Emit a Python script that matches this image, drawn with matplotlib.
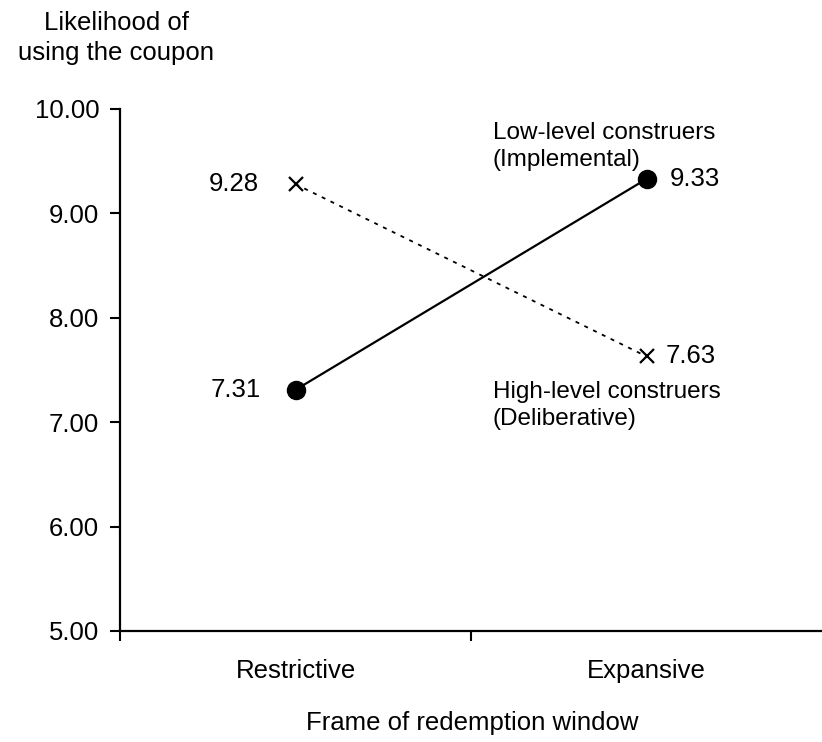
import matplotlib
matplotlib.use("Agg")
import matplotlib.pyplot as plt

frames = ["Restrictive", "Expansive"]
low_level = [7.31, 9.33]
high_level = [9.28, 7.63]
y_ticks = [5, 6, 7, 8, 9, 10]
low_label = ["Low-level construers", "(Implemental)"]
high_label = ["High-level construers", "(Deliberative)"]

plt.rcParams['font.family'] = ['Liberation Sans', 'DejaVu Sans']
fs = 18.5
fs_lab = 17.5

fig = plt.figure(figsize=(8.22, 7.42), dpi=100)
ax = fig.add_axes([0.146, 0.1496, 0.854, 0.7035])

xpos = [0.5, 1.5]
ax.plot(xpos, low_level, '-', color='black', lw=1.6, marker='o', ms=13, zorder=3)
ax.plot(xpos, high_level, linestyle=(0, (2.2, 3.2)), color='black', lw=1.3,
        marker='x', ms=10, mew=1.6, zorder=3)

# value labels
ax.text(xpos[0] - 0.1, low_level[0], f"{low_level[0]:.2f}", ha='right', va='center', fontsize=fs)
ax.text(xpos[1] + 0.065, low_level[1], f"{low_level[1]:.2f}", ha='left', va='center', fontsize=fs)
ax.text(xpos[0] - 0.105, high_level[0], f"{high_level[0]:.2f}", ha='right', va='center', fontsize=fs)
ax.text(xpos[1] + 0.055, high_level[1], f"{high_level[1]:.2f}", ha='left', va='center', fontsize=fs)

# series labels, one text per line
for txt, yv in zip(low_label, [9.77, 9.51]):
    ax.text(1.062, yv, txt, ha='left', va='center', fontsize=fs_lab)
for txt, yv in zip(high_label, [7.29, 7.03]):
    ax.text(1.062, yv, txt, ha='left', va='center', fontsize=fs_lab)

ax.set_xlim(0, 2)
ax.set_ylim(5, 10)
ax.set_yticks(y_ticks)
ax.set_yticklabels([f"{v:.2f}" for v in y_ticks], fontsize=fs)
ax.set_xticks([0, 1])
ax.set_xticklabels([])
ax.set_xticks(xpos, minor=True)
ax.set_xticklabels(frames, minor=True, fontsize=fs)
ax.tick_params(axis='x', which='minor', length=0, pad=20)
ax.tick_params(axis='x', which='major', length=7, width=1.5, direction='out')
ax.tick_params(axis='y', length=7, width=1.5, direction='out', pad=8)

for s in ['top', 'right']:
    ax.spines[s].set_visible(False)
for s in ['left', 'bottom']:
    ax.spines[s].set_linewidth(1.6)

fig.text(472 / 822, 1 - 723 / 742, "Frame of redemption window", ha='center', va='center', fontsize=fs)
fig.text(116 / 822, 1 - 38 / 742, "Likelihood of\nusing the coupon", ha='center', va='center',
         fontsize=fs, linespacing=1.35)

fig.savefig("out.png", dpi=100)
